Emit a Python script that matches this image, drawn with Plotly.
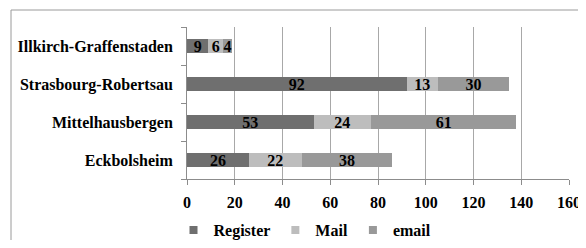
import plotly.graph_objects as go

categories = ["Eckbolsheim", "Mittelhausbergen", "Strasbourg-Robertsau", "Illkirch-Graffenstaden"]
register = [26, 53, 92, 9]
mail = [22, 24, 13, 6]
email = [38, 61, 30, 4]
series_names = ["Register", "Mail", "email"]
colors = ["#6f6f6f", "#bdbdbd", "#999999"]
x_ticks = [0, 20, 40, 60, 80, 100, 120, 140, 160]

FONT = "Liberation Serif"
FS = 16
# the page body has an 8px default margin, so the figure is sized/offset to compensate
W, H = 578, 232
L, T = 187 - 8, 27 - 8
R = 586 - 569
B = H - (179 - 8)
PW, PH = W - L - R, H - T - B

fig = go.Figure()
for name, vals, col in zip(series_names, [register, mail, email], colors):
    fig.add_trace(go.Bar(
        y=categories, x=vals, name=name, orientation="h",
        marker=dict(color=col, line=dict(width=0)),
        text=[str(v) for v in vals], textposition="inside", insidetextanchor="middle",
        textfont=dict(family=FONT, size=FS, color="black", weight="bold"),
        textangle=0, constraintext="none", width=0.37, showlegend=False,
    ))
for name, col in zip(series_names, colors):
    fig.add_trace(go.Scatter(
        x=[None], y=[None], mode="markers", name=name,
        marker=dict(symbol="square", size=8, color=col),
    ))

fig.update_layout(
    barmode="stack",
    width=W, height=H,
    margin=dict(l=L, r=R, t=T, b=B, autoexpand=False),
    paper_bgcolor="white", plot_bgcolor="white",
    font=dict(family=FONT, size=FS, color="black", weight="bold"),
    uniformtext=dict(minsize=8, mode="show"),
    legend=dict(orientation="h", x=(305 - 187) / PW, xanchor="center",
                y=-(230 - 179) / PH, yanchor="middle",
                font=dict(family=FONT, size=FS, color="black", weight="bold"),
                itemwidth=30, traceorder="normal"),
    xaxis=dict(range=[0, 160], tickvals=x_ticks, showgrid=True, gridcolor="#a8a8a8", gridwidth=1,
               showline=True, linecolor="#8c8c8c", linewidth=1, ticks="outside", ticklen=5,
               tickcolor="#8c8c8c", zeroline=False, automargin=False, ticklabeloverflow="allow",
               ticklabelstandoff=4,
               tickfont=dict(family=FONT, size=FS, color="black", weight="bold")),
    yaxis=dict(categoryorder="array", categoryarray=categories, showline=True, linecolor="#8c8c8c",
               linewidth=1, ticks="outside", ticklen=5, tickcolor="#8c8c8c", tickson="boundaries",
               showgrid=False, ticklabelstandoff=10, automargin=False,
               tickfont=dict(family=FONT, size=FS, color="black", weight="bold")),
    shapes=[dict(type="rect", xref="paper", yref="paper",
                 x0=-(187 - 11) / PW, x1=1.3, y0=-1.0, y1=1 + (27 - 10) / PH,
                 line=dict(color="#9a9a9a", width=1), fillcolor="rgba(0,0,0,0)", layer="below")],
)
fig.write_html("out.html")
